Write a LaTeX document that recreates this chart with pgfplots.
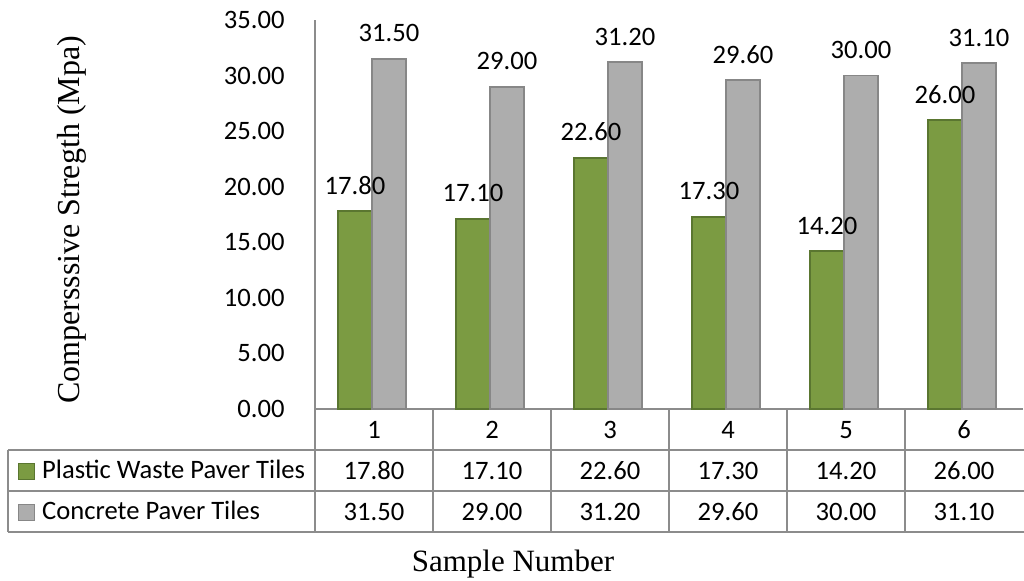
\documentclass[border=0pt]{standalone}
\usepackage{fontspec}
\setmainfont{Carlito}
\newfontfamily\tnr{Liberation Serif}
\usepackage{pgfplots}
\usepackage{pgfplotstable}
\pgfplotsset{compat=1.18}

\definecolor{pwfill}{HTML}{7B9B42}
\definecolor{pwedge}{HTML}{5A7630}
\definecolor{cpfill}{HTML}{ADADAD}
\definecolor{cpedge}{HTML}{878787}
\definecolor{rulec}{HTML}{8C8C8C}

% compressive strength per sample (MPa)
\pgfplotstableread{
x pw cp
1 17.80 31.50
2 17.10 29.00
3 22.60 31.20
4 17.30 29.60
5 14.20 30.00
6 26.00 31.10
}\strength

\newcommand\cellfont{\fontsize{13.3}{20.5}\selectfont}

\pgfplotsset{
  swatch legend/.style={legend image code/.code={\draw[##1, line width=0.6pt] (0pt,-4.5pt) rectangle (8pt,3.5pt);}},
}

\begin{document}
\begin{tikzpicture}
\path[use as bounding box] (-157.5pt,-86pt) rectangle (354.5pt,204.5pt);
\begin{axis}[
  at={(0pt,0pt)}, anchor=south west,
  scale only axis, width=354pt, height=194.5pt,
  xmin=0.5, xmax=6.5, ymin=0, ymax=35,
  clip=false,
  axis lines=left,
  axis line style={rulec, line width=0.8pt, -},
  major tick length=0pt,
  /pgf/number format/.cd, fixed, fixed zerofill, precision=2, assume math mode=true,
  /pgfplots/.cd,
  ytick={0,5,...,35},
  yticklabel style={anchor=east, inner sep=0pt, xshift=-15pt, font=\cellfont},
  xtick={1,...,6},
  % data table: sample number, then one row per series
  xticklabel={%
    \rule{0pt}{9.5pt}\pgfplotstablegetelem{\ticknum}{x}\of\strength\pgfplotsretval\\
    \pgfplotstablegetelem{\ticknum}{pw}\of\strength\pgfmathprintnumber{\pgfplotsretval}\\
    \pgfplotstablegetelem{\ticknum}{cp}\of\strength\pgfmathprintnumber{\pgfplotsretval}},
  xticklabel style={align=center, anchor=north, inner sep=0pt, yshift=-5.1pt, font=\cellfont},
  ylabel={Compersssive Stregth (Mpa)},
  ylabel style={at={(axis description cs:-0.343,0.486)}, anchor=center, font=\tnr\fontsize{16}{19}\selectfont},
  xlabel={Sample Number},
  xlabel style={at={(axis description cs:0.2797,-0.4165)}, anchor=base, font=\tnr\fontsize{15.5}{18}\selectfont},
  legend style={at={(axis description cs:-0.4195,-0.1054)}, anchor=north west,
    draw=none, fill=none, inner sep=0pt, outer sep=0pt, row sep=0pt, column sep=3.5pt,
    font=\cellfont,
    nodes={inner sep=0pt, text height=14.4pt, text depth=6.1pt}},
  legend cell align=left,
  every node near coord/.append style={anchor=base, inner sep=0pt, yshift=8.5pt, font=\cellfont, text=black},
]
\addplot[ybar, bar width=17pt, bar shift=-9.5pt, fill=pwfill, draw=pwedge, line width=0.9pt, swatch legend]
  table[x=x, y=pw] {\strength};
\addlegendentry{Plastic Waste Paver Tiles}
\addplot[ybar, bar width=17pt, bar shift=7.5pt, fill=cpfill, draw=cpedge, line width=0.9pt, swatch legend]
  table[x=x, y=cp] {\strength};
\addlegendentry{Concrete Paver Tiles}
% value labels, set after both series so they sit above the bars
\addplot[ybar, bar width=17pt, bar shift=-9.5pt, draw=none, fill=none, forget plot,
  nodes near coords, every node near coord/.append style={xshift=-9.5pt}]
  table[x=x, y=pw] {\strength};
\addplot[ybar, bar width=17pt, bar shift=7.5pt, draw=none, fill=none, forget plot,
  nodes near coords, every node near coord/.append style={xshift=7.5pt}]
  table[x=x, y=cp] {\strength};
\end{axis}
% data table grid below the plot area
\begin{scope}[rulec, line width=0.8pt]
  \draw (-153.5pt,-20.5pt) -- (354.5pt,-20.5pt);
  \draw (-153.5pt,-41pt) -- (354.5pt,-41pt);
  \draw (-153.5pt,-61.5pt) -- (354.5pt,-61.5pt);
  \draw (-153.5pt,-20.5pt) -- (-153.5pt,-61.5pt);
  \draw (0pt,0pt) -- (0pt,-61.5pt);
  \foreach \k in {1,...,5} \draw (59pt*\k,0pt) -- (59pt*\k,-61.5pt);
\end{scope}
\end{tikzpicture}
\end{document}
